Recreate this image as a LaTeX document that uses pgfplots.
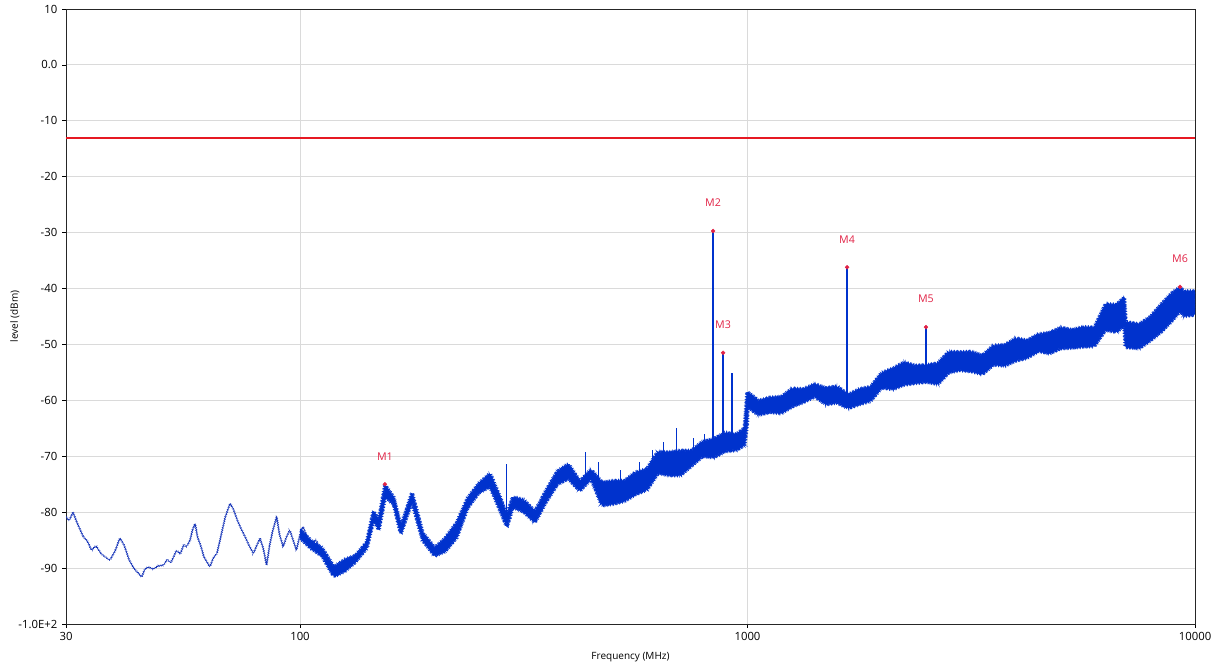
\documentclass[border=0pt]{standalone}
\usepackage{pgfplots}
\pgfplotsset{compat=1.18}
\usetikzlibrary{decorations.pathmorphing}
\usepackage{fontspec}
\setmainfont{Open Sans}
\definecolor{trace}{RGB}{0,50,205}
\definecolor{thinc}{RGB}{25,55,185}
\definecolor{mred}{RGB}{225,35,70}
\definecolor{gridc}{RGB}{218,218,218}

% dense trace as a band: upper edge going up in frequency, then lower edge coming back
\pgfplotstableread{
f L
100 -83.1
106 -85.2
112 -86.4
119 -89.8
126 -88.5
133 -87.8
141 -85.4
146 -79.9
150 -81.4
155 -75.2
162 -77.4
168 -82.6
178 -76.6
188 -83.7
200 -86.4
211 -84.7
224 -81.9
237 -77.5
251 -74.9
266 -73.1
282 -78.0
290 -80.6
299 -77.3
316 -77.8
335 -79.9
355 -76.1
376 -72.7
398 -71.4
422 -74.5
447 -72.4
473 -74.7
501 -74.4
531 -74.4
562 -72.9
596 -72.3
631 -69.2
668 -69.3
708 -69.0
750 -69.0
794 -67.4
841 -66.9
891 -65.8
944 -66.1
985 -65.0
998 -59.0
1000 -58.5
1059 -60.1
1122 -59.5
1189 -59.4
1259 -57.9
1334 -58.0
1413 -57.1
1496 -57.8
1585 -57.5
1679 -59.0
1778 -58.0
1884 -57.6
1995 -55.1
2114 -54.3
2239 -53.2
2371 -53.8
2512 -53.7
2661 -53.4
2818 -51.3
2985 -51.4
3162 -51.3
3350 -52.0
3548 -50.2
3758 -50.1
3981 -48.9
4217 -49.3
4467 -48.2
4732 -47.9
5012 -47.0
5309 -47.4
5623 -46.9
5957 -47.0
6310 -42.8
6683 -42.9
6950 -41.6
7000 -46.0
7499 -46.4
7943 -45.1
8414 -42.8
8913 -40.7
9258 -39.8
9441 -40.5
10000 -40.5
10000 -44.7
9441 -44.9
9258 -44.0
8913 -45.6
8414 -47.7
7943 -49.3
7499 -50.7
7000 -50.5
6950 -46.5
6683 -47.8
6310 -47.4
5957 -50.3
5623 -50.4
5309 -50.6
5012 -50.7
4732 -51.6
4467 -51.2
4217 -52.4
3981 -52.9
3758 -53.8
3548 -53.6
3350 -55.3
3162 -54.8
2985 -54.6
2818 -55.0
2661 -57.1
2512 -56.7
2371 -56.9
2239 -57.2
2114 -58.0
1995 -57.7
1884 -60.1
1778 -60.7
1679 -61.4
1585 -60.4
1496 -60.7
1413 -59.3
1334 -60.3
1259 -61.1
1189 -62.3
1122 -62.1
1059 -62.6
1000 -61.2
998 -64.0
985 -68.0
944 -68.9
891 -69.1
841 -70.2
794 -70.0
750 -71.7
708 -73.4
668 -73.4
631 -73.0
596 -76.0
562 -76.8
531 -78.0
501 -78.5
473 -78.8
447 -74.0
422 -76.2
398 -74.0
376 -75.0
355 -78.1
335 -81.8
316 -79.9
299 -79.1
290 -82.6
282 -80.3
266 -75.4
251 -76.5
237 -79.2
224 -84.5
211 -87.0
200 -87.8
188 -85.0
178 -78.1
168 -83.8
162 -78.6
155 -77.2
150 -83.1
146 -81.3
141 -86.4
133 -88.9
126 -90.5
119 -91.5
112 -87.8
106 -86.5
100 -84.6
}\band

% thin part of the trace below about 110 MHz
\pgfplotstableread{
f L
30 -80.8
30.5 -81.5
31.1 -80.0
31.8 -82.0
32.8 -84.4
33.5 -85.2
34.2 -86.8
35.0 -86.0
36.0 -87.5
37.6 -88.6
38.6 -87.0
39.6 -84.6
40.5 -86.0
41.5 -88.5
42.5 -90.0
44.3 -91.6
45.0 -90.2
45.8 -89.8
47.0 -90.2
48.2 -89.6
49.5 -89.5
50.5 -88.5
51.5 -89.0
53.0 -86.8
54.0 -87.5
55.0 -85.8
55.8 -86.2
56.8 -85.0
57.5 -83.2
58.3 -82.0
59.0 -84.4
60.0 -86.0
61.0 -88.0
62.9 -89.8
64.0 -88.2
65.2 -87.4
66.5 -84.5
68.0 -81.0
69.8 -78.4
71.0 -79.5
72.5 -81.5
74.1 -83.2
75.5 -84.5
77.0 -86.0
78.7 -87.4
80.0 -86.0
81.4 -84.7
82.8 -86.5
84.2 -89.5
85.5 -86.0
86.8 -83.5
88.7 -80.8
90.0 -84.0
91.7 -86.2
93.2 -84.5
94.9 -83.2
96.5 -85.0
98.2 -86.8
100 -84.0
101.6 -82.6
103.2 -84.0
105.1 -85.6
107 -85.2
108.8 -85.0
110.5 -86.5
112.6 -87.4
}\thintrace

\pgfplotstableread{
f L label
154.8 -75.0 M1
837.6 -29.7 M2
882 -51.5 M3
1669 -36.2 M4
2505 -46.9 M5
9258 -39.7 M6
}\mkrs

\begin{document}
\begin{tikzpicture}
\begin{axis}[
  scale only axis,
  width=846.75pt, height=461.25pt,
  xmode=log, log basis x=10,
  xmin=30, xmax=10000, ymin=-100, ymax=10,
  xtick={30,100,1000,10000},
  xticklabels={30,100,1000,10000},
  ytick={10,0,-10,-20,-30,-40,-50,-60,-70,-80,-90,-100},
  yticklabels={10,0.0,-10,-20,-30,-40,-50,-60,-70,-80,-90,-1.0E+2},
  minor xtick={},
  tick align=outside, xtick pos=bottom, ytick pos=left,
  major tick length=3pt,
  tick style={black, line width=0.5pt},
  axis line style={black!85, line width=0.6pt},
  grid=major,
  major grid style={gridc, line width=0.6pt},
  ticklabel style={font=\fontsize{8.5}{10}\selectfont},
  xlabel={Frequency (MHz)},
  ylabel={level (dBm)},
  label style={font=\fontsize{7.5}{9}\selectfont},
  xlabel style={at={(axis description cs:0.5,-0.0537)}, anchor=center},
  ylabel style={at={(axis description cs:-0.0452,0.5)}, anchor=center},
]
\addplot[draw=thinc, line width=0.45pt, decorate,
  decoration={zigzag, segment length=1.4pt, amplitude=0.5pt}]
  table[x=f, y=L] {\thintrace};

\addplot[fill=trace, draw=trace, line width=0.45pt, decorate,
  decoration={zigzag, segment length=1.3pt, amplitude=0.9pt}]
  table[x=f, y=L] {\band};
\addplot[draw=trace, line width=0.4pt, decorate,
  decoration={zigzag, segment length=2.3pt, amplitude=1.3pt}]
  table[x=f, y=L] {\band};

% spikes
\addplot[draw=trace, line width=0.7pt] coordinates {(290,-81.5) (290,-71.3)};
\addplot[draw=trace, line width=0.7pt] coordinates {(434,-73.5) (434,-69.2)};
\addplot[draw=trace, line width=0.7pt] coordinates {(465,-75.5) (465,-71.0)};
\addplot[draw=trace, line width=0.7pt] coordinates {(520,-76.5) (520,-72.5)};
\addplot[draw=trace, line width=0.7pt] coordinates {(575,-75.0) (575,-71.0)};
\addplot[draw=trace, line width=0.7pt] coordinates {(613,-72.5) (613,-68.9)};
\addplot[draw=trace, line width=0.7pt] coordinates {(650,-71.5) (650,-67.5)};
\addplot[draw=trace, line width=0.7pt] coordinates {(693,-71.5) (693,-65.0)};
\addplot[draw=trace, line width=0.7pt] coordinates {(756,-70.0) (756,-66.8)};
\addplot[draw=trace, line width=0.7pt] coordinates {(800,-69.0) (800,-66.0)};
\addplot[draw=trace, line width=1pt] coordinates {(837.6,-70.0) (837.6,-29.7)};
\addplot[draw=trace, line width=1pt] coordinates {(882,-68.0) (882,-51.5)};
\addplot[draw=trace, line width=1pt] coordinates {(924,-67.5) (924,-55.1)};
\addplot[draw=trace, line width=1pt] coordinates {(1669,-60.5) (1669,-36.2)};
\addplot[draw=trace, line width=1pt] coordinates {(2505,-56.0) (2505,-46.9)};

\addplot[draw={rgb,255:red,230;green,25;blue,35}, line width=1.5pt] coordinates {(30,-13) (10000,-13)};

\addplot[only marks, mark=*, mark size=1.4pt, color=mred,
  point meta=explicit symbolic, nodes near coords,
  nodes near coords style={font=\fontsize{8}{9}\selectfont, text=mred, anchor=center, yshift=21pt}]
  table[x=f, y=L, meta=label] {\mkrs};
\end{axis}
\pgfresetboundingbox
\path[use as bounding box] ([xshift=-49.5pt,yshift=-33.75pt]current axis.south west) rectangle ([xshift=17.25pt,yshift=6.75pt]current axis.north east);
\end{tikzpicture}
\end{document}
